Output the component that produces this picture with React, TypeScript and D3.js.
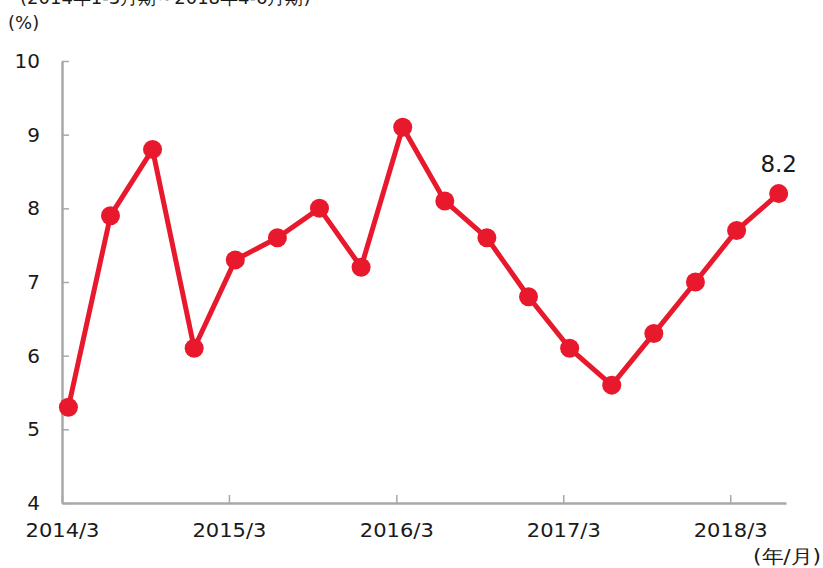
import * as d3 from "d3";
import { useRef, useEffect } from "react";

// quarterly values, 2014/1-3 .. 2018/4-6 (plotted mid last month of quarter)
const months = [
  "2014-03", "2014-06", "2014-09", "2014-12",
  "2015-03", "2015-06", "2015-09", "2015-12",
  "2016-03", "2016-06", "2016-09", "2016-12",
  "2017-03", "2017-06", "2017-09", "2017-12",
  "2018-03", "2018-06",
];
const values = [5.3, 7.9, 8.8, 6.1, 7.3, 7.6, 8.0, 7.2, 9.1, 8.1, 7.6, 6.8, 6.1, 5.6, 6.3, 7.0, 7.7, 8.2];
const yTicks = [4, 5, 6, 7, 8, 9, 10];
const xTicks = ["2014-03", "2015-03", "2016-03", "2017-03", "2018-03"];
const xTickLabels = ["2014/3", "2015/3", "2016/3", "2017/3", "2018/3"];

const W = 823, H = 568;
const marginLeft = 62, marginRight = 37, marginTop = 61, marginBottom = 65;
const red = "#e8192c";
const grey = "#a6a8ab";
const font = "'DejaVu Sans', Verdana, sans-serif";

const parseMonth = d3.timeParse("%Y-%m");

export default function App() {
  const gx = useRef<SVGGElement>(null);
  const gy = useRef<SVGGElement>(null);

  const x = d3.scaleTime(
    [new Date(2014, 2, 1), new Date(2018, 6, 1)],
    [marginLeft, W - marginRight]
  );
  const y = d3.scaleLinear([4, 10], [H - marginBottom, marginTop]);

  const pts = months.map((m, i) => {
    const d = parseMonth(m)!;
    return { date: new Date(d.getFullYear(), d.getMonth(), 15), v: values[i] };
  });
  const line = d3.line<{ date: Date; v: number }>(d => x(d.date), d => y(d.v));

  useEffect(() => {
    const g = d3.select(gx.current!);
    g.selectAll("*").remove();
    g.call(
      d3.axisBottom(x)
        .tickValues(xTicks.map(t => parseMonth(t)!))
        .tickSizeInner(-8)
        .tickSizeOuter(0)
        .tickFormat((_, i) => xTickLabels[i])
    );
    g.select(".domain").attr("stroke", grey).attr("stroke-width", 2.5);
    g.selectAll(".tick line").attr("stroke", grey).attr("stroke-width", 1.5);
    g.selectAll(".tick text")
      .attr("fill", "#1a1a1a")
      .attr("font-family", font)
      .attr("font-size", 19)
      .attr("dy", "1.15em")
      .attr("y", 12)
      .attr("textLength", 74)
      .attr("lengthAdjust", "spacingAndGlyphs");
  }, []);

  useEffect(() => {
    const g = d3.select(gy.current!);
    g.selectAll("*").remove();
    g.call(d3.axisLeft(y).tickValues(yTicks).tickSizeInner(-7).tickSizeOuter(0).tickFormat(d3.format("d")));
    g.select(".domain").attr("stroke", grey).attr("stroke-width", 2.5);
    g.selectAll(".tick line").attr("stroke", grey).attr("stroke-width", 1.5);
    g.selectAll(".tick text")
      .attr("fill", "#1a1a1a")
      .attr("font-family", font)
      .attr("font-size", 20)
      .attr("x", -22);
  }, []);

  const last = pts[pts.length - 1];

  return (
    <svg width={W} height={H} style={{ position: "absolute", left: 0, top: 0 }}>
      <text x={20} y={4} fontFamily={font} fontSize={18} fill="#1a1a1a">
        (2014年1-3月期～2018年4-6月期)
      </text>
      <text x={8} y={29} fontFamily={font} fontSize={18} fill="#1a1a1a">(%)</text>
      <g ref={gy} transform={`translate(${marginLeft},0)`} />
      <g ref={gx} transform={`translate(0,${H - marginBottom})`} />
      <path d={line(pts)!} fill="none" stroke={red} strokeWidth={5} strokeLinejoin="round" />
      <g fill={red}>
        {pts.map((p, i) => (
          <circle key={i} cx={x(p.date)} cy={y(p.v)} r={9.5} />
        ))}
      </g>
      <text x={x(last.date)} y={y(last.v) - 22} textAnchor="middle" fontFamily={font} fontSize={23} fill="#1a1a1a">
        {d3.format(".1f")(last.v)}
      </text>
      <text x={821} y={563} textAnchor="end" fontFamily={font} fontSize={19} fill="#1a1a1a"
        textLength={68} lengthAdjust="spacingAndGlyphs">
        (年/月)
      </text>
    </svg>
  );
}
